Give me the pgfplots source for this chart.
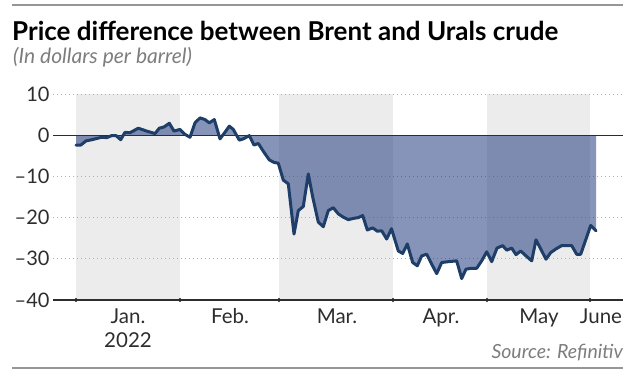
\documentclass[border=0pt]{standalone}
\usepackage{fontspec}
\setmainfont{Lato}
\usepackage{pgfplots}
\pgfplotsset{compat=1.18}
\usepackage{pgfplotstable}
\usepgfplotslibrary{fillbetween}
\definecolor{lineblue}{RGB}{30,62,104}
\definecolor{fillblue}{RGB}{33,60,126}
\definecolor{band}{RGB}{236,236,236}
\definecolor{gridgray}{RGB}{175,175,175}
\definecolor{rulegray}{RGB}{150,150,150}
\definecolor{subgray}{RGB}{125,125,125}
\definecolor{axisdark}{RGB}{45,45,45}

\pgfplotstableread{
x v
76 -2.4
80.7 -2.4
86 -1.4
91.7 -1.1
96.7 -0.8
101.7 -0.5
106.7 -0.6
111.7 -0.1
116 -0.1
120.7 -1.1
125 0.7
130 0.6
138.3 1.7
146.7 1.0
155 0.4
159.3 1.7
164 2.0
169.3 2.9
174 1.0
180 1.4
185 0.2
190 -0.5
195 3.0
200 4.2
205 3.8
209.3 3.0
214.3 3.8
220 -0.9
224 0.4
229.3 2.2
233.3 1.4
239.3 -1.2
243.3 -0.9
249.3 -0.1
254 -2.4
258.3 -2.0
263.3 -3.9
269.3 -6.0
274 -6.6
278.3 -6.8
283.3 -10.9
288.3 -11.8
294 -24.0
298.3 -18.3
303.3 -17.3
308.3 -9.4
312.7 -15.0
318.3 -21.1
323.3 -22.2
328.3 -18.3
333.3 -17.6
338.3 -19.1
343.3 -19.9
348.3 -20.5
353.3 -20.2
358.3 -20.0
362.7 -19.5
367.3 -23.0
372.7 -22.5
377.3 -23.3
381.7 -23.2
386.7 -25.2
391.5 -22.7
398.3 -28.1
402.7 -28.7
407.3 -26.4
412.7 -30.9
417.3 -31.7
421.7 -29.3
426.7 -28.9
431.7 -31.3
436.7 -33.6
441.7 -30.9
448.3 -30.7
456.7 -30.5
461.7 -34.8
466 -32.5
471.7 -32.3
476.7 -32.3
481.7 -30.5
486.7 -28.3
491.7 -30.7
497 -27.4
502.7 -26.8
506.7 -27.9
511.7 -27.4
516 -29.0
520.7 -28.1
526 -29.3
531.7 -30.5
536 -25.4
540.7 -27.6
546 -30.1
550.7 -28.5
556 -27.6
561.7 -26.8
567.3 -26.8
571.7 -26.8
576.7 -28.9
580.7 -28.9
586 -25.2
590.7 -21.9
596 -23.2
}\spread

\pgfplotstableread{
x z
76 0
596 0
}\zeroline

\begin{document}
\begin{tikzpicture}
\path (0bp,0bp) rectangle (635bp,378bp);
% top and bottom rules
\draw[rulegray, line width=1.5bp] (12bp,373bp) -- (623bp,373bp);
\draw[rulegray, line width=1.2bp] (12bp,10bp) -- (623bp,10bp);
% title and subtitle
\node[anchor=base west, inner sep=0pt, font=\fontsize{26bp}{29bp}\selectfont\bfseries] at (12bp,337bp) {Price difference between Brent and Urals crude};
\node[anchor=base west, inner sep=0pt, text=subgray, font=\fontsize{21bp}{23bp}\selectfont\itshape] at (13bp,314bp) {(In dollars per barrel)};
% source
\node[anchor=base east, inner sep=0pt, text=subgray, font=\fontsize{19.5bp}{22bp}\selectfont\itshape] at (623bp,20bp) {Source: Refinitiv};

\begin{axis}[
  at={(53bp,78bp)}, anchor=south west,
  scale only axis,
  width=570bp, height=206bp,
  xmin=53, xmax=623, ymin=-40, ymax=10,
  axis line style={draw=none},
  tick style={draw=none},
  ytick={-40,-30,-20,-10,0,10},
  yticklabels={–40,–30,–20,–10,0,10},
  yticklabel style={font=\fontsize{20bp}{22bp}\selectfont, text=axisdark},
  xtick={128,230,337,441,539,601},
  xticklabels={Jan.\\2022,Feb.,Mar.,Apr.,May,June},
  xticklabel style={font=\fontsize{20.5bp}{24bp}\selectfont, text=axisdark, align=center, anchor=north, yshift=-5bp},
  clip=false,
]
% grey month bands
\addplot[fill=band, draw=none] coordinates {(76,-40) (180,-40) (180,10) (76,10)} -- cycle;
\addplot[fill=band, draw=none] coordinates {(279,-40) (393,-40) (393,10) (279,10)} -- cycle;
\addplot[fill=band, draw=none] coordinates {(487,-40) (590,-40) (590,10) (487,10)} -- cycle;
% dotted gridlines
\addplot[gridgray, line width=0.9bp, dash pattern=on 1bp off 3bp] coordinates {(53,10) (623,10)};
\addplot[gridgray, line width=0.9bp, dash pattern=on 1bp off 3bp] coordinates {(53,-10) (623,-10)};
\addplot[gridgray, line width=0.9bp, dash pattern=on 1bp off 3bp] coordinates {(53,-20) (623,-20)};
\addplot[gridgray, line width=0.9bp, dash pattern=on 1bp off 3bp] coordinates {(53,-30) (623,-30)};
% fill between curve and zero
\addplot[name path=curve, draw=none] table[x=x,y=v] {\spread};
\addplot[name path=zero, draw=none] table[x=x,y=z] {\zeroline};
\addplot[fill=fillblue, fill opacity=0.55, draw=none] fill between[of=curve and zero, on layer=main];
% zero line and baseline
\addplot[axisdark, line width=1.3bp] coordinates {(53,0) (623,0)};
\addplot[axisdark, line width=1.3bp] coordinates {(53,-40) (623,-40)};
\addplot[only marks, mark=*, mark size=1.8bp, axisdark] coordinates {(76,-40) (180,-40) (279,-40) (393,-40) (487,-40) (590,-40)};
% the series line
\addplot[lineblue, line width=3bp, line join=round, line cap=round] table[x=x,y=v] {\spread};
\end{axis}
\end{tikzpicture}
\end{document}
